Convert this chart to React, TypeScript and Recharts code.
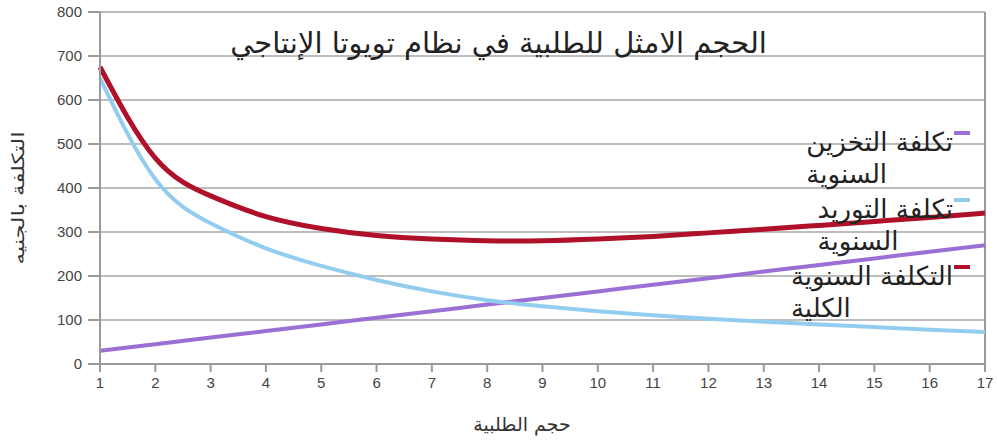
import React from 'react';
import { LineChart, Line, XAxis, YAxis, CartesianGrid, ReferenceLine } from 'recharts';

const orderSizes = [1, 2, 3, 4, 5, 6, 7, 8, 9, 10, 11, 12, 13, 14, 15, 16, 17];
const storageCost = [30, 45, 60, 75, 90, 105, 120, 135, 150, 165, 180, 195, 210, 225, 240, 255, 270];
const supplyCost = [650, 420, 320, 263, 223, 191, 165, 145, 131, 120, 111, 103, 96, 90, 84, 78, 73];
const totalCost = [675, 468, 382, 335, 308, 292, 284, 280, 280, 284, 290, 298, 306, 315, 324, 333, 343];
const yTicks = [0, 100, 200, 300, 400, 500, 600, 700, 800];

const title = 'الحجم الامثل للطلبية في نظام تويوتا الإنتاجي';
const xTitle = 'حجم الطلبية';
const yTitle = 'التكلفة بالجنيه';

const series = [
  { key: 'storage', lines: ['تكلفة التخزين', 'السنوية'], color: '#9b6fd3', width: 4 },
  { key: 'supply', lines: ['تكلفة التوريد', 'السنوية'], color: '#92cdef', width: 4 },
  { key: 'total', lines: ['التكلفة السنوية', 'الكلية'], color: '#ae1129', width: 5 },
];

const data = orderSizes.map((q, i) => ({
  q,
  storage: storageCost[i],
  supply: supplyCost[i],
  total: totalCost[i],
}));

const arabicFont = '"DejaVu Sans", sans-serif';
const tickStyle = { fontFamily: '"Liberation Sans", Arial, sans-serif', fontSize: 15, fill: '#444' };

export default function App() {
  return (
    <div style={{ position: 'absolute', left: 0, top: 0, width: 997, height: 440, background: '#fff' }}>
      <LineChart width={997} height={440} data={data} margin={{ top: 12, right: 12, left: 0, bottom: 46 }}>
        <CartesianGrid vertical={false} stroke='#bdbdbd' strokeWidth={2} />
        <XAxis
          dataKey='q'
          type='number'
          domain={[1, 17]}
          ticks={orderSizes}
          interval={0}
          height={30}
          tickSize={8}
          tickMargin={5}
          tick={tickStyle}
          stroke='#9a9a9a'
          strokeWidth={2}
        />
        <YAxis
          domain={[0, 800]}
          ticks={yTicks}
          interval={0}
          width={100}
          tickSize={12}
          tickMargin={6}
          tick={tickStyle}
          stroke='#9a9a9a'
          strokeWidth={2}
        />
        <ReferenceLine x={17} stroke='#9a9a9a' strokeWidth={2} />
        {series.map((s) => (
          <Line
            key={s.key}
            type='natural'
            dataKey={s.key}
            stroke={s.color}
            strokeWidth={s.width}
            dot={false}
            isAnimationActive={false}
          />
        ))}
      </LineChart>

      <div
        style={{
          position: 'absolute',
          left: 0,
          width: 997,
          top: 26,
          textAlign: 'center',
          fontFamily: arabicFont,
          fontSize: 29,
          color: '#222',
          direction: 'rtl',
          whiteSpace: 'nowrap',
        }}
      >
        {title}
      </div>

      <div
        style={{
          position: 'absolute',
          left: 522,
          top: 424,
          transform: 'translate(-50%, -50%)',
          fontFamily: arabicFont,
          fontSize: 19,
          color: '#333',
          direction: 'rtl',
          whiteSpace: 'nowrap',
        }}
      >
        {xTitle}
      </div>

      <div
        style={{
          position: 'absolute',
          left: 18,
          top: 198,
          transform: 'translate(-50%, -50%) rotate(-90deg) scaleX(1.35)',
          fontFamily: arabicFont,
          fontSize: 17,
          color: '#333',
          direction: 'rtl',
          whiteSpace: 'nowrap',
        }}
      >
        {yTitle}
      </div>

      {series.map((s, i) => (
        <div
          key={s.key}
          style={{
            position: 'absolute',
            right: 997 - 970,
            top: 126 + i * 67,
            display: 'flex',
            alignItems: 'flex-start',
          }}
        >
          <div
            style={{
              display: 'flex',
              flexDirection: 'column',
              alignItems: 'flex-end',
              fontFamily: arabicFont,
              fontSize: 26,
              lineHeight: '32px',
              color: '#222',
              direction: 'rtl',
              whiteSpace: 'nowrap',
            }}
          >
            {s.lines.map((t) => (
              <span key={t}>{t}</span>
            ))}
          </div>
          <div style={{ width: 16, height: 4, background: s.color, marginTop: 5, marginLeft: 1 }} />
        </div>
      ))}
    </div>
  );
}
